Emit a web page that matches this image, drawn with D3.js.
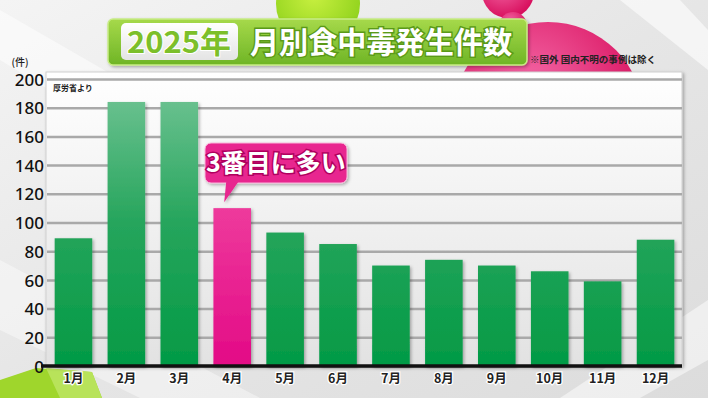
<!DOCTYPE html>
<html>
<head>
<meta charset="utf-8">
<script src="https://cdn.jsdelivr.net/npm/d3@7"></script>
<style>
  body { margin: 0; padding: 0; overflow: hidden; background: #e9e9e9; }
  text { font-family: "Noto Sans CJK JP", "Noto Sans", sans-serif; }
</style>
</head>
<body>
<div id="chart"></div>
<script>
// data
var months = ["1月", "2月", "3月", "4月", "5月", "6月", "7月", "8月", "9月", "10月", "11月", "12月"];
var cases = [89, 184, 184, 110, 93, 85, 70, 74, 70, 66, 59, 88];
var yTicks = [0, 20, 40, 60, 80, 100, 120, 140, 160, 180, 200];
var highlight = "4月";
var titleYear = "2025年";
var titleMain = "月別食中毒発生件数";
var note = "※国外 国内不明の事例は除く";
var source = "厚労省より";
var unit = "(件)";
var callout = "3番目に多い";

var W = 708, H = 398;
var plot = { left: 47, right: 682, top: 79, bottom: 366 };

var svg = d3.select("#chart").append("svg")
    .attr("width", W)
    .attr("height", H);

var defs = svg.append("defs");

var bg = defs.append("linearGradient").attr("id", "bg")
    .attr("x1", 0).attr("y1", 0).attr("x2", 1).attr("y2", 1);
bg.append("stop").attr("offset", "0%").attr("stop-color", "#f4f4f4");
bg.append("stop").attr("offset", "50%").attr("stop-color", "#e6e6e6");
bg.append("stop").attr("offset", "100%").attr("stop-color", "#dcdcdc");

var panel = defs.append("linearGradient").attr("id", "panel")
    .attr("x1", 0).attr("y1", 0).attr("x2", 0).attr("y2", 1);
panel.append("stop").attr("offset", "0%").attr("stop-color", "#ffffff");
panel.append("stop").attr("offset", "100%").attr("stop-color", "#e2e2e2");

// bar gradients span the whole plot height, so short bars stay darker
var green = defs.append("linearGradient").attr("id", "green")
    .attr("gradientUnits", "userSpaceOnUse")
    .attr("x1", 0).attr("y1", plot.top).attr("x2", 0).attr("y2", plot.bottom);
green.append("stop").attr("offset", "0%").attr("stop-color", "#74c597");
green.append("stop").attr("offset", "50%").attr("stop-color", "#26a55c");
green.append("stop").attr("offset", "100%").attr("stop-color", "#039a45");

var pink = defs.append("linearGradient").attr("id", "pink")
    .attr("gradientUnits", "userSpaceOnUse")
    .attr("x1", 0).attr("y1", plot.top).attr("x2", 0).attr("y2", plot.bottom);
pink.append("stop").attr("offset", "0%").attr("stop-color", "#f56ab5");
pink.append("stop").attr("offset", "45%").attr("stop-color", "#ee3a9c");
pink.append("stop").attr("offset", "100%").attr("stop-color", "#e30a86");

var banner = defs.append("linearGradient").attr("id", "banner")
    .attr("x1", 0).attr("y1", 0).attr("x2", 0).attr("y2", 1);
banner.append("stop").attr("offset", "0%").attr("stop-color", "#a6d94a");
banner.append("stop").attr("offset", "100%").attr("stop-color", "#6fb526");

var yearBox = defs.append("linearGradient").attr("id", "yearBox")
    .attr("x1", 0).attr("y1", 0).attr("x2", 0).attr("y2", 1);
yearBox.append("stop").attr("offset", "0%").attr("stop-color", "#ffffff");
yearBox.append("stop").attr("offset", "100%").attr("stop-color", "#e4e4e4");

var ball = defs.append("radialGradient").attr("id", "pinkBall")
    .attr("cx", "40%").attr("cy", "35%").attr("r", "65%");
ball.append("stop").attr("offset", "0%").attr("stop-color", "#f56aa8");
ball.append("stop").attr("offset", "100%").attr("stop-color", "#d8105e");

var lime = defs.append("radialGradient").attr("id", "limeBall")
    .attr("cx", "45%").attr("cy", "40%").attr("r", "65%");
lime.append("stop").attr("offset", "0%").attr("stop-color", "#c8f040");
lime.append("stop").attr("offset", "100%").attr("stop-color", "#8cd01a");

var shadow = defs.append("filter").attr("id", "shadow")
    .attr("x", "-10%").attr("y", "-10%").attr("width", "130%").attr("height", "130%");
shadow.append("feDropShadow").attr("dx", 1.5).attr("dy", 1.5)
    .attr("stdDeviation", 1.5).attr("flood-color", "#000").attr("flood-opacity", 0.3);

// background
svg.append("rect").attr("width", W).attr("height", H).attr("fill", "url(#bg)");
svg.append("path")
    .attr("d", "M0,10 L0,60 L230,200 L330,200 Z")
    .attr("fill", "#ffffff").attr("opacity", 0.5);
svg.append("path")
    .attr("d", "M0,260 L0,330 L140,398 L260,398 Z")
    .attr("fill", "#ffffff").attr("opacity", 0.4);
svg.append("path")
    .attr("d", "M620,0 L680,0 L708,30 L708,70 Z")
    .attr("fill", "#ffffff").attr("opacity", 0.6);
svg.append("path")
    .attr("d", "M560,398 L708,300 L708,360 L640,398 Z")
    .attr("fill", "#ffffff").attr("opacity", 0.5);

// decorative balls
svg.append("circle").attr("cx", 318).attr("cy", 4).attr("r", 42).attr("fill", "url(#limeBall)");
svg.append("circle").attr("cx", 548).attr("cy", 118).attr("r", 96).attr("fill", "url(#pinkBall)");
svg.append("circle").attr("cx", 508).attr("cy", -8).attr("r", 26).attr("fill", "url(#pinkBall)");
svg.append("circle").attr("cx", 513).attr("cy", 26).attr("r", 14).attr("fill", "url(#pinkBall)");
svg.append("path")
    .attr("d", "M0,398 L0,380 L36,368 L92,372 L102,398 Z")
    .attr("fill", "#9fd62c");
svg.append("path")
    .attr("d", "M46,368 L92,372 L102,398 L60,398 Z")
    .attr("fill", "#b8e35a");

// plot panel
svg.append("rect")
    .attr("x", plot.left - 1).attr("y", 72)
    .attr("width", plot.right - plot.left + 1).attr("height", plot.bottom - 72)
    .attr("fill", "url(#panel)")
    .attr("stroke", "#d0d0d0").attr("stroke-width", 1)
    .attr("filter", "url(#shadow)");

var x = d3.scaleBand()
    .domain(months)
    .range([plot.left, plot.right])
    .paddingInner(0.29)
    .paddingOuter(0.145);

var y = d3.scaleLinear()
    .domain([0, 200])
    .range([plot.bottom, plot.top]);

// gridlines
var grid = svg.append("g")
    .attr("transform", "translate(" + plot.left + ",0)")
    .call(d3.axisLeft(y).tickValues(yTicks.slice(1)).tickSize(-(plot.right - plot.left)).tickFormat(""));
grid.select(".domain").remove();
grid.selectAll("line").attr("stroke", "#a9a9a9").attr("stroke-width", 2.5);

// y labels
var yAxis = svg.append("g")
    .attr("transform", "translate(" + plot.left + ",0)")
    .call(d3.axisLeft(y).tickValues(yTicks).tickSize(0).tickPadding(3));
yAxis.select(".domain").remove();
yAxis.selectAll("text")
    .attr("font-size", 17)
    .attr("font-weight", 500)
    .attr("fill", "#111")
    .attr("dy", "0.36em")
    .style("font-family", "'Noto Sans', sans-serif");

// bars
svg.append("g").selectAll("rect")
    .data(cases)
    .enter()
    .append("rect")
    .attr("x", function(d, i) { return x(months[i]); })
    .attr("y", function(d) { return y(d); })
    .attr("width", x.bandwidth())
    .attr("height", function(d) { return y(0) - y(d); })
    .attr("fill", function(d, i) { return months[i] === highlight ? "url(#pink)" : "url(#green)"; })
    .attr("filter", "url(#shadow)");

// baseline
svg.append("line")
    .attr("x1", plot.left - 6).attr("x2", plot.right)
    .attr("y1", y(0)).attr("y2", y(0))
    .attr("stroke", "#111").attr("stroke-width", 3.5);

// month labels
var xAxis = svg.append("g")
    .attr("transform", "translate(0," + (plot.bottom + 4) + ")")
    .call(d3.axisBottom(x).tickSize(0).tickPadding(4));
xAxis.select(".domain").remove();
xAxis.selectAll("text")
    .attr("font-size", 12.5)
    .attr("font-weight", 700)
    .attr("fill", "#222")
    .attr("stroke", "#ffffff").attr("stroke-width", 2.5)
    .attr("paint-order", "stroke");

// unit and source
svg.append("text")
    .attr("x", 20).attr("y", 66)
    .attr("text-anchor", "middle")
    .attr("font-size", 10).attr("font-weight", 500).attr("fill", "#222")
    .text(unit);
svg.append("text")
    .attr("x", 53).attr("y", 91)
    .attr("font-size", 8).attr("font-weight", 700).attr("fill", "#222")
    .text(source);

// callout
var hx = x(highlight) + x.bandwidth() / 2;
var cb = svg.append("g").attr("filter", "url(#shadow)");
cb.append("rect")
    .attr("x", 205).attr("y", 143)
    .attr("width", 142).attr("height", 40)
    .attr("rx", 6)
    .attr("fill", "#e8258f").attr("stroke", "#f8b8da").attr("stroke-width", 1);
cb.append("path")
    .attr("d", "M" + (hx - 6) + ",182 L" + (hx + 6) + ",182 L" + (hx - 8) + "," + (y(cases[months.indexOf(highlight)]) - 6) + " Z")
    .attr("fill", "#e8258f");
svg.append("text")
    .attr("x", 276).attr("y", 172)
    .attr("text-anchor", "middle")
    .attr("font-size", 25).attr("font-weight", 700)
    .attr("fill", "#ffffff")
    .attr("stroke", "#b0005e").attr("stroke-width", 3)
    .attr("paint-order", "stroke")
    .text(callout);

// title banner
svg.append("rect")
    .attr("x", 108).attr("y", 19)
    .attr("width", 419).attr("height", 46)
    .attr("rx", 5)
    .attr("fill", "url(#banner)")
    .attr("stroke", "#c8ec86").attr("stroke-width", 1.5)
    .attr("filter", "url(#shadow)");
svg.append("rect")
    .attr("x", 121).attr("y", 23)
    .attr("width", 117).attr("height", 37)
    .attr("rx", 5)
    .attr("fill", "url(#yearBox)");
svg.append("text")
    .attr("x", 179).attr("y", 53)
    .attr("text-anchor", "middle")
    .attr("font-size", 30).attr("font-weight", 700)
    .attr("fill", "#7cbf2a")
    .attr("stroke", "#ffffff").attr("stroke-width", 2)
    .attr("paint-order", "stroke")
    .attr("textLength", 104).attr("lengthAdjust", "spacingAndGlyphs")
    .text(titleYear);
svg.append("text")
    .attr("x", 381).attr("y", 53)
    .attr("text-anchor", "middle")
    .attr("font-size", 30).attr("font-weight", 700)
    .attr("fill", "#ffffff")
    .attr("stroke", "#5a9a18").attr("stroke-width", 3)
    .attr("paint-order", "stroke")
    .attr("textLength", 262).attr("lengthAdjust", "spacingAndGlyphs")
    .text(titleMain);

svg.append("text")
    .attr("x", 530).attr("y", 63)
    .attr("font-size", 9).attr("font-weight", 700).attr("fill", "#222")
    .attr("textLength", 126).attr("lengthAdjust", "spacingAndGlyphs")
    .text(note);
</script>
</body>
</html>
